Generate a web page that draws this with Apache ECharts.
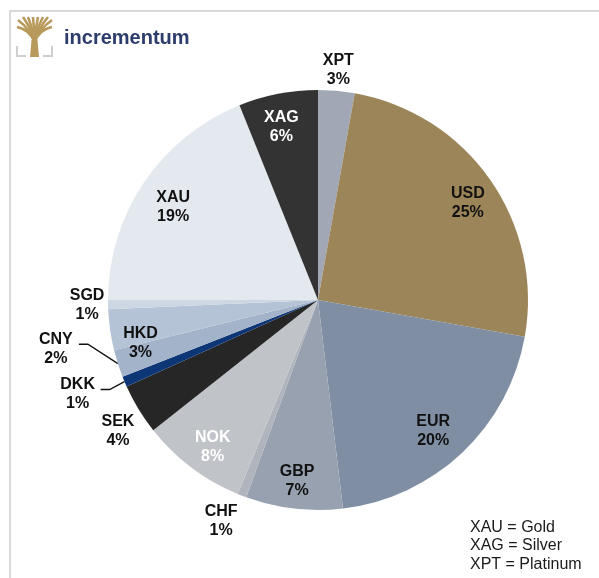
<!DOCTYPE html>
<html>
<head>
<meta charset="utf-8">
<script src="https://cdn.jsdelivr.net/npm/echarts@6/dist/echarts.min.js"></script>
<style>
  html, body { margin: 0; padding: 0; background: #ffffff; }
  #main { width: 599px; height: 578px; }
</style>
</head>
<body>
<div id="main"></div>
<script>
// ==============================
// data
// ==============================

const currencies = ['XPT', 'USD', 'EUR', 'GBP', 'CHF', 'NOK', 'SEK', 'DKK', 'CNY', 'HKD', 'SGD', 'XAU', 'XAG'];

const shares = [2.8, 25.0, 20.3, 7.45, 0.7, 8.1, 3.9, 0.8, 2.1, 3.15, 0.7, 18.9, 6.1];

const sliceColors = ['#a1a7b5', '#9c8558', '#7f8ea3', '#97a1b0', '#afb4bd', '#c0c3c8', '#262626',
                     '#0d3677', '#a3b3ca', '#b5c3d7', '#cdd6e3', '#e4e8ef', '#333333'];

const legendLines = ['XAU = Gold', 'XAG = Silver', 'XPT = Platinum'];


// ==============================
// label placement (style)
// ==============================

const labelRadius = [1.10, 0.85, 0.83, 0.87, 1.15, 0.86, 1.14, 1.23, 1.27, 0.87, 1.10, 0.82, 0.84];
const labelShift  = [0, 2, 2, 0, 2.4, -1.4, -2, 1.4, 7, -5.5, 0, -1.3, -1];
const whiteLabels = ['XAG', 'NOK'];
const leaderLabels = ['CNY', 'DKK'];

const cx = 318, cy = 300, R = 210;

// mid angle of every slice, clockwise from 12 o'clock
const total = shares.reduce((a, b) => a + b, 0);
const midAngles = [];
let acc = 0;
shares.forEach(v => {
    midAngles.push((acc + v / 2) / total * 360);
    acc += v;
});

function polar(deg, r){
    const a = deg * Math.PI / 180;
    return [cx + r * Math.sin(a), cy - r * Math.cos(a)];
}


// ==============================
// logo pieces
// ==============================

const goldC = '#b89a5c';
const greyC = '#cfcfcf';

const branchTips = [[17, 27], [18, 20], [23, 17], [28, 17], [33, 17], [38, 17], [43, 17], [48, 17], [52, 20], [52, 27]];

const logo = [
    { type: 'polygon', shape: { points: [[30, 57], [39, 57], [37.5, 40], [31.5, 40]] }, style: { fill: goldC } }
];
branchTips.forEach(t => {
    const mx = (34.5 + t[0]) / 2;
    logo.push({
        type: 'bezierCurve',
        shape: { x1: 34.5, y1: 43, x2: t[0], y2: t[1], cpx1: mx + (34.5 - mx) * 0.6, cpy1: 30 },
        style: { stroke: goldC, lineWidth: 2.6, fill: null }
    });
});
logo.push(
    { type: 'polyline', shape: { points: [[17, 46], [17, 56], [26, 56]] }, style: { stroke: greyC, lineWidth: 2, fill: null } },
    { type: 'polyline', shape: { points: [[43, 56], [52, 56], [52, 46]] }, style: { stroke: greyC, lineWidth: 2, fill: null } }
);


// ==============================
// chart
// ==============================

const myChart = echarts.init(document.getElementById('main'));

myChart.setOption({

    backgroundColor: '#ffffff',
    animation: false,

    graphic: [
        // frame
        { type: 'line', silent: true, shape: { x1: 9, y1: 11, x2: 599, y2: 11 }, style: { stroke: '#d9d9d9', lineWidth: 2 } },
        { type: 'line', silent: true, shape: { x1: 10, y1: 11, x2: 10, y2: 578 }, style: { stroke: '#d9d9d9', lineWidth: 2 } }
    ].concat(logo, [
        // word mark
        {
            type: 'text', left: 64, top: 28,
            style: { text: 'incrementum', fill: '#2c3c6b', font: 'bold 20px "Liberation Sans", Arial, sans-serif' }
        },

        // legend note
        {
            type: 'text', left: 470, top: 518,
            style: {
                text: legendLines.join('\n'),
                fill: '#1a1a1a',
                font: '16px "Liberation Sans", Arial, sans-serif',
                lineHeight: 18.5
            }
        }
    ]),

    series: [{
        type: 'pie',
        center: [cx, cy],
        radius: R,
        startAngle: 90,
        clockwise: true,
        avoidLabelOverlap: false,
        silent: true,
        emphasis: { disabled: true },
        itemStyle: { borderWidth: 0 },
        label: {
            show: true,
            position: 'outside',
            fontFamily: '"Liberation Sans", Arial, sans-serif',
            fontWeight: 'bold',
            fontSize: 16,
            lineHeight: 19,
            color: '#111111',
            formatter: p => p.name + '\n' + Math.round(p.value) + '%'
        },
        labelLine: { show: false },
        labelLayout: function(params){
            const i = params.dataIndex;
            const pos = polar(midAngles[i] + labelShift[i], R * labelRadius[i]);
            const out = { x: pos[0], y: pos[1], align: 'center', verticalAlign: 'middle' };
            if (leaderLabels.indexOf(currencies[i]) >= 0) {
                out.labelLinePoints = [
                    polar(midAngles[i], R),
                    [pos[0] + 32, pos[1] - 5],
                    [pos[0] + 23, pos[1] - 5]
                ];
            }
            return out;
        },
        data: currencies.map((name, i) => ({
            name: name,
            value: shares[i],
            itemStyle: { color: sliceColors[i] },
            label: { color: whiteLabels.indexOf(name) >= 0 ? '#ffffff' : '#111111' },
            labelLine: {
                show: leaderLabels.indexOf(name) >= 0,
                length: 10,
                length2: 8,
                lineStyle: { color: '#111111', width: 1.3 }
            }
        }))
    }]

});
</script>
</body>
</html>
